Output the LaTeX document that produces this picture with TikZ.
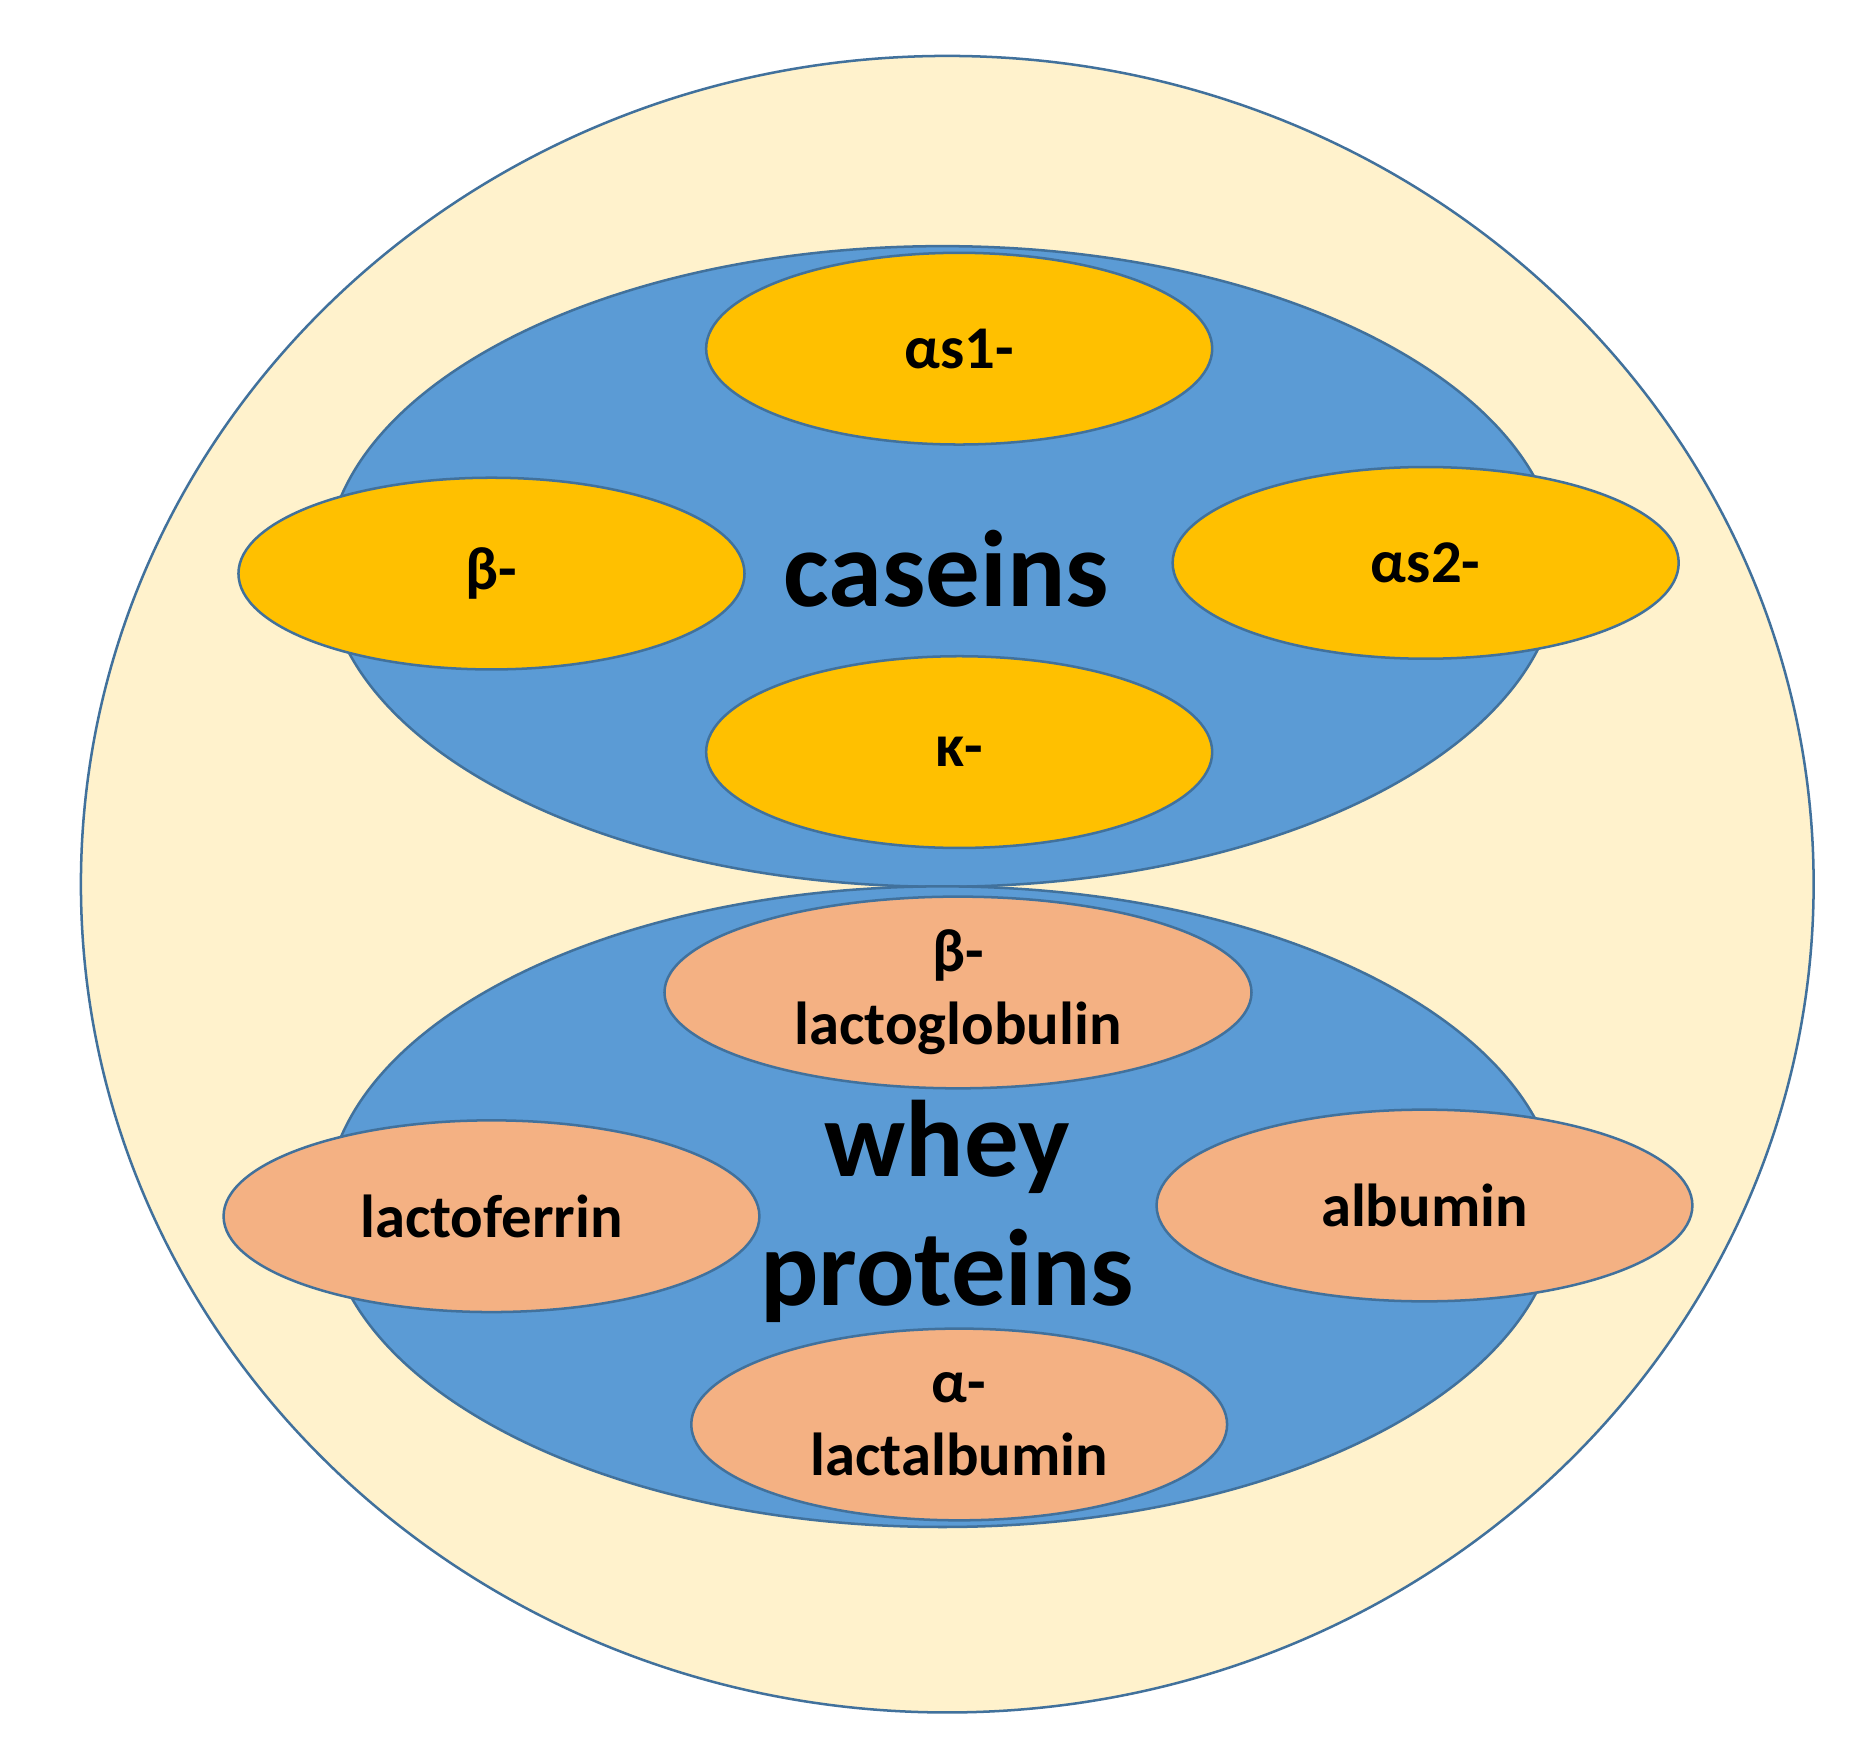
\documentclass[tikz,border=0pt]{standalone}
\usepackage{fontspec}
\setmainfont{Carlito}
\usetikzlibrary{shapes.geometric}

\definecolor{milkCream}{RGB}{255,242,204}
\definecolor{milkBlue}{RGB}{91,155,213}
\definecolor{milkGold}{RGB}{255,192,0}
\definecolor{milkPeach}{RGB}{244,177,131}
\definecolor{milkBorder}{RGB}{65,113,156}

\begin{document}
\begin{tikzpicture}[x=.01cm,y=-.01cm,
      outline/.style={draw=milkBorder, line width=.6pt},
      group/.style={ellipse, outline, fill=milkBlue, inner sep=0pt,
        minimum width=10.35cm, minimum height=5.38cm},
      casein/.style={ellipse, outline, fill=milkGold, inner sep=0pt,
        minimum width=4.25cm, minimum height=1.61cm,
        font=\fontsize{14.5}{17.4}\selectfont\bfseries},
      whey/.style={ellipse, outline, fill=milkPeach, inner sep=0pt,
        minimum width=4.5cm, minimum height=1.61cm, align=center,
        font=\fontsize{14.5}{17.4}\selectfont\bfseries},
      title/.style={font=\fontsize{26}{31}\selectfont\bfseries,
        align=center, inner sep=0pt}]
      \useasboundingbox (0,0) rectangle (1568,1471);
      \fill[white] (0,0) rectangle (1568,1471);
      \path[outline, fill=milkCream] (796,743) ellipse [x radius=728, y radius=696];

      % caseins
      \node[group] (caseinGroup) at (792,476) {};
      \node[casein] (alphaSOne) at (806,293) {αs1-};
      \node[casein] (betaCasein) at (413,482) {β-};
      \node[casein] (alphaSTwo) at (1198,473) {αs2-};
      \node[casein] (kappaCasein) at (806,632) {κ-};
      \node[title] (caseinTitle) at (795,478) {caseins};

      % whey proteins
      \node[group] (wheyGroup) at (792,1014) {};
      \node[whey, minimum width=4.93cm] (betaLacto) at (805,834) {β-\\lactoglobulin};
      \node[whey] (lactoferrin) at (413,1022) {lactoferrin};
      \node[whey] (albumin) at (1197,1013) {albumin};
      \node[whey] (alphaLact) at (806,1197) {α-\\lactalbumin};
      \node[title] (wheyTitle) at (796,1018) {whey\\proteins};
    \end{tikzpicture}
\end{document}
